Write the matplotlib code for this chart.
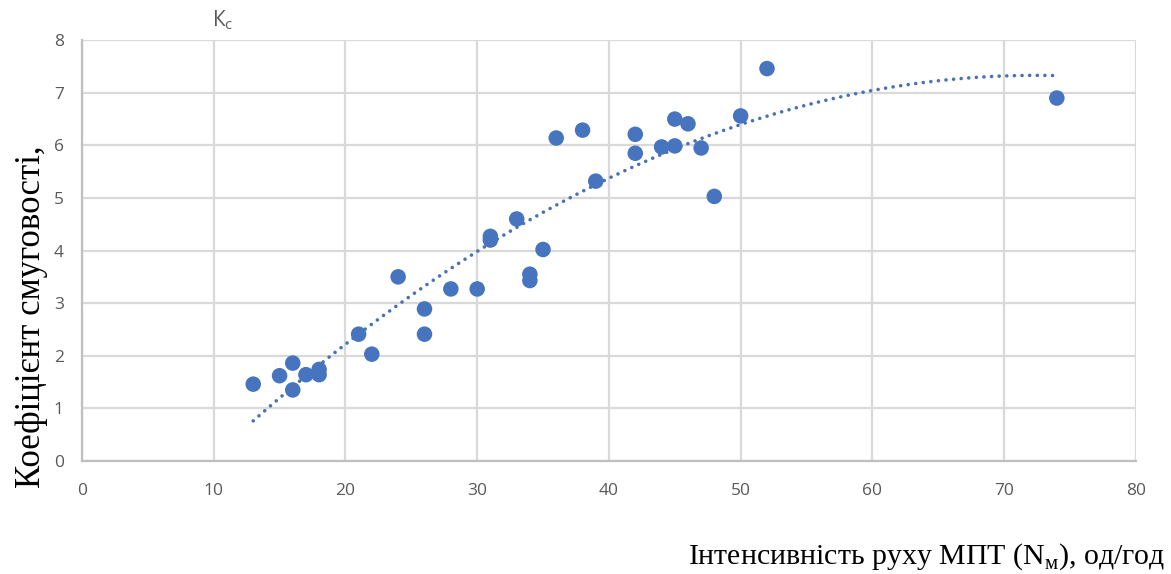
import numpy as np
import matplotlib
matplotlib.use('Agg')
import matplotlib.pyplot as plt

# Інтенсивність руху МПТ (од/год) та коефіцієнт смуговості
n_m = [13, 15, 16, 16, 17, 18, 18, 21, 22, 24, 26, 26, 28, 30, 31, 31, 33,
       34, 34, 35, 36, 38, 39, 42, 42, 44, 45, 45, 46, 47, 48, 50, 52, 74]
k_c = [1.46, 1.62, 1.86, 1.35, 1.64, 1.74, 1.64, 2.41, 2.03, 3.50, 2.89, 2.41,
       3.27, 3.27, 4.20, 4.27, 4.60, 3.55, 3.43, 4.02, 6.14, 6.29, 5.32, 6.21,
       5.85, 5.97, 6.50, 5.99, 6.41, 5.95, 5.03, 6.56, 7.46, 6.90]

x_ticks = [0, 10, 20, 30, 40, 50, 60, 70, 80]
y_ticks = [0, 1, 2, 3, 4, 5, 6, 7, 8]

blue = '#4674BF'
trend_blue = '#4a72b0'
tick_color = '#595959'
grid_color = '#d9d9d9'

fig = plt.figure(figsize=(11.71, 5.74), dpi=100)
ax = fig.add_axes([0.070, 0.197, 0.900, 0.733])

# поліноміальний тренд 2-го ступеня (як в Excel)
coef = np.polyfit(n_m, k_c, 2)
xs = np.linspace(min(n_m), max(n_m), 300)
ax.plot(xs, np.polyval(coef, xs), color=trend_blue, linewidth=2.6,
        linestyle=(0, (0.01, 2.1)), dash_capstyle='round', zorder=2)

ax.scatter(n_m, k_c, s=125, color=blue, edgecolors='none', zorder=3)

ax.set_xlim(0, 80)
ax.set_ylim(0, 8)
ax.set_xticks(x_ticks)
ax.set_yticks(y_ticks)
ax.grid(True, color=grid_color, linewidth=1.6)
ax.set_axisbelow(True)
for side in ['top', 'right']:
    ax.spines[side].set_visible(False)
for side in ['left', 'bottom']:
    ax.spines[side].set_color('#bfbfbf')
    ax.spines[side].set_linewidth(1.6)
ax.tick_params(length=0, colors=tick_color, labelsize=12.5)
ax.tick_params(axis='x', pad=16)
ax.tick_params(axis='y', pad=13)
for lab in ax.get_xticklabels() + ax.get_yticklabels():
    lab.set_fontfamily('Open Sans')

# підписи осей
fig.text(0.027, 0.448, 'Коефіцієнт смуговості,', rotation=90, ha='center', va='center',
         fontsize=25, family='Liberation Serif', color='black')
fig.text(0.995, 0.018, r'Інтенсивність руху МПТ (N$_{\mathregular{м}}$), од/год',
         ha='right', va='baseline', fontsize=21.5, family='Liberation Serif', color='black')
fig.text(0.181, 0.945, r'К$_{\mathregular{с}}$', ha='left', va='bottom',
         fontsize=15, family='Open Sans', color=tick_color)

fig.savefig('out.png', dpi=100)
